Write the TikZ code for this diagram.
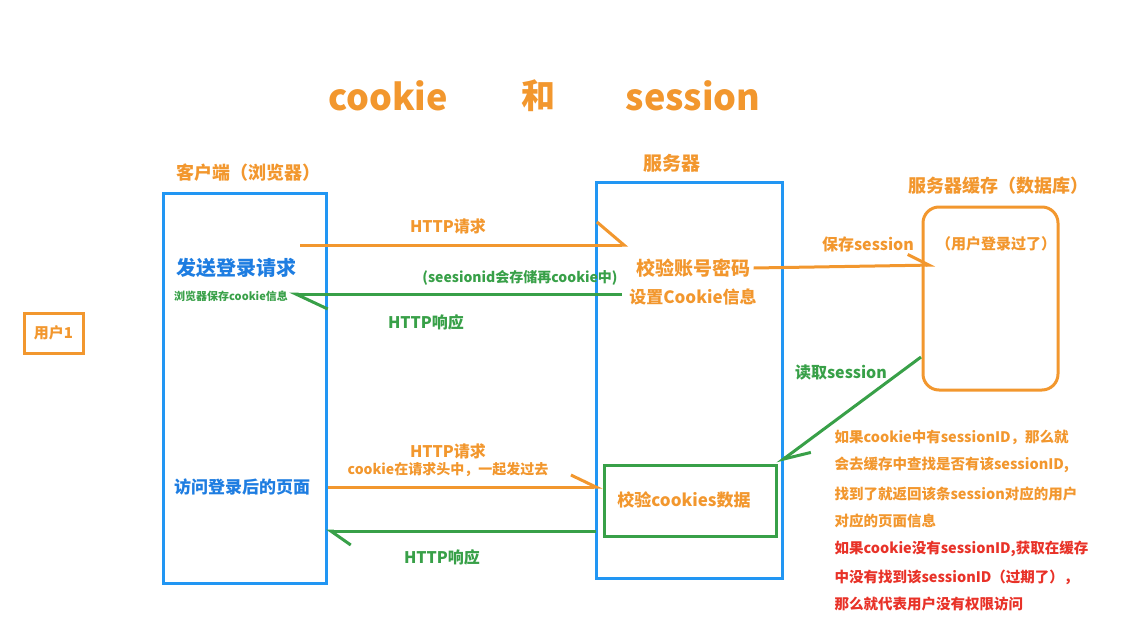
\documentclass[tikz,border=0pt]{standalone}
\usepackage{fontspec}
\setmainfont{Noto Sans CJK SC}
\usepackage{xcolor}
\usetikzlibrary{arrows.meta, positioning}
\definecolor{ckorange}{RGB}{242, 151, 46}
\definecolor{ckblue}{RGB}{33, 150, 243}
\definecolor{ckbluetext}{RGB}{30, 125, 225}
\definecolor{ckgreen}{RGB}{56, 160, 72}
\definecolor{ckred}{RGB}{232, 50, 40}
\newcommand{\pxfont}[1]{\fontsize{#1}{#1}\selectfont\bfseries}
\tikzset{
    bluebox/.style={draw=ckblue, line width=3pt},
    orangebox/.style={draw=ckorange, line width=3pt},
    greenbox/.style={draw=ckgreen, line width=3pt},
    otext/.style={text=ckorange},
    gtext/.style={text=ckgreen},
    oarrow/.style 2 args={draw=ckorange, line width=3pt, -{Straight Barb[left, length=#1, width=#2]}},
    garrow/.style 2 args={draw=ckgreen, line width=3pt, -{Straight Barb[left, length=#1, width=#2]}}
}

\begin{document}
\begin{tikzpicture}[x=1pt, y=-1pt]
    \useasboundingbox (0,0) rectangle (1141,635);

    % Title
    \node[otext, font=\pxfont{36}] (tcookie) at (388,96) {cookie};
    \node[otext, font=\pxfont{34}] (tand) at (538,96) {和};
    \node[otext, font=\pxfont{36}] (tsession) at (693,96) {session};

    % Boxes
    \node[bluebox, minimum width=163pt, minimum height=390pt] (client) at (244.5,388) {};
    \node[bluebox, minimum width=186pt, minimum height=396pt] (server) at (689,380) {};
    \node[orangebox, rounded corners=16pt, minimum width=135pt, minimum height=183pt] (cache) at (990.5,298.5) {};
    \node[orangebox, minimum width=59pt, minimum height=40pt, otext, font=\pxfont{15}] (user) at (53.5,333) {用户1};
    \node[greenbox, minimum width=172pt, minimum height=71pt] (check) at (690,500.5) {};
    \node[otext, font=\pxfont{17}] (checklbl) at (684,500) {校验cookies数据};

    % Headings
    \node[otext, font=\pxfont{18}] (clienthead) at (248,173) {客户端（浏览器）};
    \node[otext, font=\pxfont{19}] (serverhead) at (672,163) {服务器};
    \node[otext, font=\pxfont{18}] (cachehead) at (998,186) {服务器缓存（数据库）};

    % Client side
    \node[text=ckbluetext, font=\pxfont{20}] (login) at (236,268) {发送登录请求};
    \node[gtext, font=\pxfont{11}] (storeinfo) at (231,296) {浏览器保存cookie信息};
    \node[text=ckbluetext, font=\pxfont{17}] (visit) at (242,487) {访问登录后的页面};

    % Server side
    \node[otext, font=\pxfont{19}] (checkpwd) at (693,268) {校验账号密码};
    \node[otext, font=\pxfont{17}] (setcookie) at (693,297) {设置Cookie信息};
    \node[otext, font=\pxfont{15}] (loggedin) at (996,244) {（用户登录过了）};

    % Arrow labels
    \node[otext, font=\pxfont{16}] (req1lbl) at (448,226) {HTTP请求};
    \node[gtext, font=\pxfont{14}] (sidlbl) at (520,278) {(seesionid会存储再cookie中)};
    \node[gtext, font=\pxfont{16}] (resp1lbl) at (426,322) {HTTP响应};
    \node[otext, font=\pxfont{16}] (savelbl) at (868,244) {保存session};
    \node[gtext, font=\pxfont{16}] (readlbl) at (841,372) {读取session};
    \node[otext, font=\pxfont{16}] (req2lbl) at (448,451) {HTTP请求};
    \node[otext, font=\pxfont{14}] (req2sub) at (448,470) {cookie在请求头中，一起发过去};
    \node[gtext, font=\pxfont{16}] (resp2lbl) at (442,557) {HTTP响应};

    % Arrows
    \coordinate (req1s) at (300,245);
    \coordinate (req1e) at (628,245);
    \coordinate (resp1s) at (622,294);
    \coordinate (resp1e) at (289,294);
    \coordinate (savee) at (935,265);
    \coordinate (reads) at (921,357);
    \coordinate (resp2s) at (596,531);
    \coordinate (resp2e) at (326,531);
    \draw[oarrow={27pt}{46pt}] (req1s) -- (req1e);
    \draw[garrow={32pt}{30pt}] (resp1s) -- (resp1e);
    \draw[oarrow={21pt}{22pt}] (checkpwd.east) -- (savee);
    \draw[garrow={26pt}{22pt}] (reads) -- (check.north east);
    \draw[oarrow={25pt}{24pt}] (client.east |- visit) -- (check.west |- visit);
    \draw[garrow={20pt}{28pt}] (resp2s) -- (resp2e);

    % Notes
    \foreach \y/\txt/\col in {437/{如果cookie中有sessionID，那么就}/ckorange,
                              465/{会去缓存中查找是否有该sessionID,}/ckorange,
                              494/{找到了就返回该条session对应的用户}/ckorange,
                              521/{对应的页面信息}/ckorange,
                              549/{如果cookie没有sessionID,获取在缓存}/ckred,
                              577/{中没有找到该sessionID（过期了），}/ckred,
                              604/{那么就代表用户没有权限访问}/ckred} {
        \node[anchor=west, text=\col, font=\pxfont{14.5}] (note\y) at (831,\y) {\txt};
    }
\end{tikzpicture}
\end{document}
